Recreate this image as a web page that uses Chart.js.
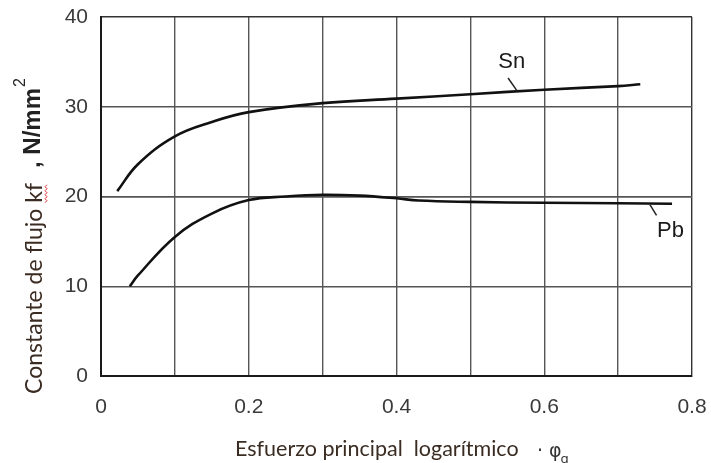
<!DOCTYPE html>
<html>
<head>
<meta charset="utf-8">
<script src="https://cdn.jsdelivr.net/npm/chart.js@4.4.1/dist/chart.umd.min.js"></script>
<style>
  html, body { margin: 0; padding: 0; background: #ffffff; }
  #wrap { width: 711px; height: 463px; position: relative; }
</style>
</head>
<body>
<div id="wrap"><canvas id="c" width="711" height="463"></canvas></div>
<script>
// ---- data ----
const snX = [0.022, 0.05, 0.1, 0.15, 0.2, 0.3, 0.4, 0.5, 0.6, 0.7, 0.73];
const snY = [20.6, 23.6, 26.7, 28.3, 29.4, 30.4, 30.9, 31.4, 31.9, 32.3, 32.5];
const pbX = [0.039, 0.05, 0.1, 0.15, 0.2, 0.25, 0.3, 0.35, 0.4, 0.43, 0.5, 0.6, 0.7, 0.773];
const pbY = [10.0, 11.2, 15.5, 18.1, 19.6, 20.0, 20.2, 20.1, 19.8, 19.55, 19.4, 19.3, 19.25, 19.2];
const xTickLabels = ['0', '', '0.2', '', '0.4', '', '0.6', '', '0.8'];
const yTickLabels = ['0', '10', '20', '30', '40'];
const seriesNames = ['Sn', 'Pb'];
// label anchors (data units) and leader lines
const snLabel = { x: 0.556, y: 35.0, lx1: 0.551, ly1: 33.2, lx2: 0.563, ly2: 31.8 };
const pbLabel = { x: 0.771, y: 16.2, lx1: 0.743, ly1: 19.1, lx2: 0.752, ly2: 17.9 };
const yTitleMain = 'Constante de flujo kf';
const yTitleUnit = ', N/mm';
const xTitleMain = 'Esfuerzo principal  logarítmico';
const xTitleSym = '\u00b7 \u03c6';

const toPts = (xs, ys) => xs.map((x, i) => ({ x: x, y: ys[i] }));

const labelPlugin = {
  id: 'curveLabels',
  afterDatasetsDraw(chart) {
    const ctx = chart.ctx, xs = chart.scales.x, ys = chart.scales.y;
    ctx.save();
    ctx.fillStyle = '#1a1a1a';
    ctx.strokeStyle = '#222';
    ctx.lineWidth = 1.5;
    ctx.font = '22px "Liberation Sans", Arial, sans-serif';
    ctx.textAlign = 'center';
    ctx.textBaseline = 'middle';
    [[snLabel, seriesNames[0]], [pbLabel, seriesNames[1]]].forEach(([L, name]) => {
      ctx.fillText(name, xs.getPixelForValue(L.x), ys.getPixelForValue(L.y));
      ctx.beginPath();
      ctx.moveTo(xs.getPixelForValue(L.lx1), ys.getPixelForValue(L.ly1));
      ctx.lineTo(xs.getPixelForValue(L.lx2), ys.getPixelForValue(L.ly2));
      ctx.stroke();
    });
    ctx.restore();
  }
};

const titlePlugin = {
  id: 'axisTitles',
  afterDraw(chart) {
    const ctx = chart.ctx, a = chart.chartArea;
    ctx.save();
    // y title (rotated)
    ctx.translate(a.left - 66, a.bottom + 18);
    ctx.rotate(-Math.PI / 2);
    ctx.textBaseline = 'middle';
    ctx.textAlign = 'left';
    ctx.fillStyle = '#3a2c22';
    ctx.font = '23px Lato, "Noto Sans", sans-serif';
    ctx.fillText(yTitleMain, 0, 0);
    const w1 = ctx.measureText(yTitleMain).width;
    // red spell-check squiggle under "kf"
    const wkf = ctx.measureText('kf').width;
    ctx.strokeStyle = '#e03030';
    ctx.lineWidth = 1;
    ctx.beginPath();
    for (let i = 0; i <= wkf; i += 2) {
      const yy = 10 + ((i / 2) % 2 === 0 ? 0 : 2);
      if (i === 0) ctx.moveTo(w1 - wkf + i, yy); else ctx.lineTo(w1 - wkf + i, yy);
    }
    ctx.stroke();
    ctx.fillStyle = '#222';
    ctx.font = 'bold 24px "Liberation Sans", Arial, sans-serif';
    const ux = 226;
    ctx.fillText(yTitleUnit, ux, -2);
    const w2 = ctx.measureText(yTitleUnit).width;
    ctx.font = '16px "Liberation Sans", Arial, sans-serif';
    ctx.fillText('2', ux + w2 + 1, -14);
    ctx.restore();

    // x title
    ctx.save();
    ctx.textBaseline = 'middle';
    ctx.textAlign = 'left';
    ctx.fillStyle = '#3a2c22';
    ctx.font = '21.5px Lato, "Noto Sans", sans-serif';
    const tx = 235, ty = 449;
    ctx.fillText(xTitleMain, tx, ty);
    ctx.fillStyle = '#333';
    ctx.font = '19px "DejaVu Sans", sans-serif';
    ctx.fillText(xTitleSym, 537, ty + 3);
    const w3 = ctx.measureText(xTitleSym).width;
    ctx.font = '13px "DejaVu Sans", sans-serif';
    ctx.fillText('g', 537 + w3 - 1, ty + 11);
    ctx.restore();
  }
};

new Chart(document.getElementById('c'), {
  type: 'scatter',
  data: {
    datasets: [
      { label: seriesNames[0], data: toPts(snX, snY), showLine: true, borderColor: '#111', borderWidth: 2.6,
        pointRadius: 0, tension: 0.4, fill: false },
      { label: seriesNames[1], data: toPts(pbX, pbY), showLine: true, borderColor: '#111', borderWidth: 2.6,
        pointRadius: 0, tension: 0.4, fill: false }
    ]
  },
  options: {
    responsive: false,
    animation: false,
    layout: { padding: { top: 17, right: 19, left: 0, bottom: 0 } },
    plugins: { legend: { display: false }, tooltip: { enabled: false }, title: { display: false } },
    scales: {
      x: {
        type: 'linear', min: 0, max: 0.8,
        afterFit(s) { s.height = 87; s.paddingLeft = 0; s.paddingRight = 0; },
        border: { display: true, color: '#1a1a1a', width: 2 },
        grid: { color: (c) => (c.index === 8 ? '#333' : '#555'), lineWidth: 1.4, drawTicks: false },
        ticks: {
          stepSize: 0.1, autoSkip: false, maxRotation: 0, padding: 19, color: '#3a3a3a',
          font: { family: '"Liberation Sans", Arial, sans-serif', size: 21 },
          callback: (v, i) => xTickLabels[i]
        }
      },
      y: {
        type: 'linear', min: 0, max: 40,
        afterFit(s) { s.width = 101; s.paddingTop = 0; s.paddingBottom = 0; },
        border: { display: true, color: '#1a1a1a', width: 2 },
        grid: { color: (c) => (c.index === 4 ? '#333' : '#555'), lineWidth: (c) => (c.index === 2 ? 1.8 : 1.4), drawTicks: false },
        ticks: {
          stepSize: 10, padding: 13, color: '#3a3a3a',
          font: { family: '"Liberation Sans", Arial, sans-serif', size: 21 },
          callback: (v, i) => yTickLabels[i]
        }
      }
    }
  },
  plugins: [labelPlugin, titlePlugin]
});
</script>
</body>
</html>
